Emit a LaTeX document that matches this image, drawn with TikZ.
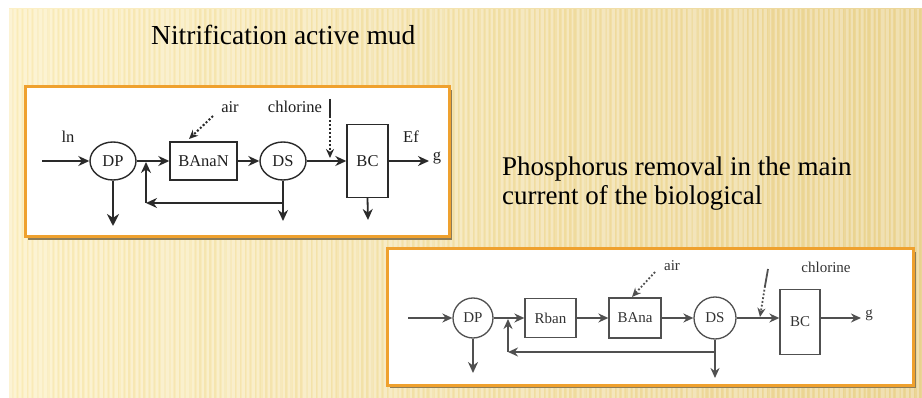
\documentclass[tikz,border=0pt]{standalone}
\usepackage{fontspec}
\setmainfont{Liberation Serif}
\usetikzlibrary{arrows.meta,shapes.geometric}
\definecolor{frameor}{HTML}{EFA12E}
\definecolor{shadowc}{HTML}{8C7C58}
\definecolor{bgl}{HTML}{FCF0C6}
\definecolor{bgr}{HTML}{EBD597}
\definecolor{lnA}{HTML}{2A2A2A}
\definecolor{lnB}{HTML}{505050}
\begin{document}
\begin{tikzpicture}[x=1pt,y=-1pt]
\tikzset{
  ta/.style={font=\fontsize{16.5}{18}\selectfont,text=black!88,inner sep=1pt},
  tb/.style={font=\fontsize{15}{17}\selectfont,text=black!80,inner sep=1pt},
  ellA/.style={ellipse,draw=lnA,line width=1.4pt,minimum width=46pt,minimum height=38pt,inner sep=0pt,ta},
  boxA/.style={rectangle,draw=lnA,line width=1.4pt,inner sep=0pt,ta},
  flowA/.style={draw=lnA,line width=1.8pt,-{Stealth[length=11pt,width=10pt]}},
  thickA/.style={draw=lnA,line width=2.6pt,-{Stealth[length=12pt,width=12pt]}},
  dotA/.style={draw=lnA,line width=2pt,dotted,-{Stealth[length=9pt,width=8pt]}},
  circB/.style={circle,draw=lnB,line width=1.3pt,minimum size=40pt,inner sep=0pt,tb},
  boxB/.style={rectangle,draw=lnB,line width=1.3pt,inner sep=0pt,tb},
  flowB/.style={draw=lnB,line width=1.6pt,-{Stealth[length=10pt,width=9pt]}},
  thickB/.style={draw=lnB,line width=2.2pt,-{Stealth[length=11pt,width=10pt]}},
  dotB/.style={draw=lnB,line width=1.8pt,dotted,-{Stealth[length=9pt,width=8pt]}},
  frame/.style={fill=white,draw=frameor,line width=3pt},
  shad/.style={fill=shadowc}
}
\useasboundingbox (0,0) rectangle (922,398);
\fill[white] (0,0) rectangle (922,398);
\shade[left color=bgl,right color=bgr] (9,9) rectangle (922,398);
\pgfmathsetseed{7}
\foreach \i in {0,...,179}{
  \pgfmathsetmacro{\w}{1.5+2.5*rnd}
  \fill[white,opacity=0.25] ({9+\i*5.07},9) rectangle ++(\w,389);
  \fill[brown!60!yellow,opacity=0.08] ({11.5+\i*5.07},9) rectangle ++(1.5,389);
}
% titles
\node[anchor=base west,font=\fontsize{27.5}{30}\selectfont,inner sep=0pt] (t1) at (151,45) {Nitrification active mud};
\node[anchor=base west,align=left,font=\fontsize{27}{29}\selectfont,inner sep=0pt] (t2) at (502,205) {Phosphorus removal in the main\\current of the biological};
% frames
\fill[shad] (28,90) rectangle (452,240);
\draw[frame] (25,87) rectangle (449,237);
\fill[shad] (390,252) rectangle (916,388);
\draw[frame] (387,249) rectangle (913,385);
% ---------- diagram 1
\node[ellA] (dp1) at (113,161) {DP};
\node[boxA,minimum width=67pt,minimum height=38pt] (ba1) at (203.5,161) {BAnaN};
\node[ellA] (ds1) at (283,161) {DS};
\node[boxA,minimum width=41pt,minimum height=73pt] (bc1) at (367.5,161) {BC};
\node[ta] (ln1) at (68,137) {ln};
\node[ta] (ef1) at (411,137) {Ef};
\node[ta] (g1) at (437,158) {g};
\node[ta] (air1) at (230,107) {air};
\node[ta] (cl1) at (295,107) {chlorine};
\coordinate (in1) at (42,161);
\coordinate (out1) at (429,161);
\coordinate (dpd1) at (113,226);
\coordinate (bcd1) at (368,220);
\coordinate (dsd1) at (283,221);
\coordinate (ra1) at (283,203);
\coordinate (rb1) at (146,203);
\coordinate (rc1) at (146,162);
\coordinate (aa1) at (213,116);
\coordinate (ab1) at (189,139);
\coordinate (ca1) at (330,99);
\coordinate (cb1) at (330,116);
\coordinate (cc1) at (330,158);
\draw[flowA] (in1) -- (dp1);
\draw[flowA] (dp1) -- (ba1);
\draw[flowA] (ba1) -- (ds1);
\draw[flowA] (ds1) -- (bc1);
\draw[flowA] (bc1) -- (out1);
\draw[thickA] (dp1.south) -- (dpd1);
\draw[flowA] (bc1.south) -- (bcd1);
\draw[flowA] (ds1.south) -- (dsd1);
\draw[flowA] (ra1) -- (rb1);
\draw[flowA] (rb1) -- (rc1);
\draw[dotA] (aa1) -- (ab1);
\draw[lnA,line width=2pt] (ca1) -- (cb1);
\draw[dotA] (cb1) -- (cc1);
% ---------- diagram 2
\node[circB] (dp2) at (473,318) {DP};
\node[boxB,minimum width=51pt,minimum height=39pt] (rb2) at (550.5,318) {Rban};
\node[boxB,minimum width=52pt,minimum height=40pt] (ba2) at (635,318) {BAna};
\node[circB,minimum size=42pt] (ds2) at (715,318) {DS};
\node[boxB,minimum width=40pt,minimum height=65pt] (bc2) at (800,322) {BC};
\node[tb] (g2) at (869,315) {g};
\node[tb] (air2) at (672,266) {air};
\node[tb] (cl2) at (826,267) {chlorine};
\coordinate (in2) at (408,318);
\coordinate (out2) at (861,318);
\coordinate (dpd2) at (473,373);
\coordinate (dsd2) at (715,378);
\coordinate (ra2) at (715,352);
\coordinate (rb2c) at (508,352);
\coordinate (rc2) at (508,319);
\coordinate (aa2) at (655,272);
\coordinate (ab2) at (632,297);
\coordinate (ca2) at (768,269);
\coordinate (cb2) at (765,286);
\coordinate (cc2) at (760,317);
\draw[flowB] (in2) -- (dp2);
\draw[flowB] (dp2) -- (rb2);
\draw[flowB] (rb2) -- (ba2);
\draw[flowB] (ba2) -- (ds2);
\draw[flowB] (ds2) -- (ds2.east -| bc2.west);
\draw[flowB] (bc2.east |- out2) -- (out2);
\draw[thickB] (dp2.south) -- (dpd2);
\draw[flowB] (ds2.south) -- (dsd2);
\draw[flowB] (ra2) -- (rb2c);
\draw[flowB] (rb2c) -- (rc2);
\draw[dotB] (aa2) -- (ab2);
\draw[lnB,line width=1.8pt] (ca2) -- (cb2);
\draw[dotB] (cb2) -- (cc2);
\end{tikzpicture}
\end{document}
